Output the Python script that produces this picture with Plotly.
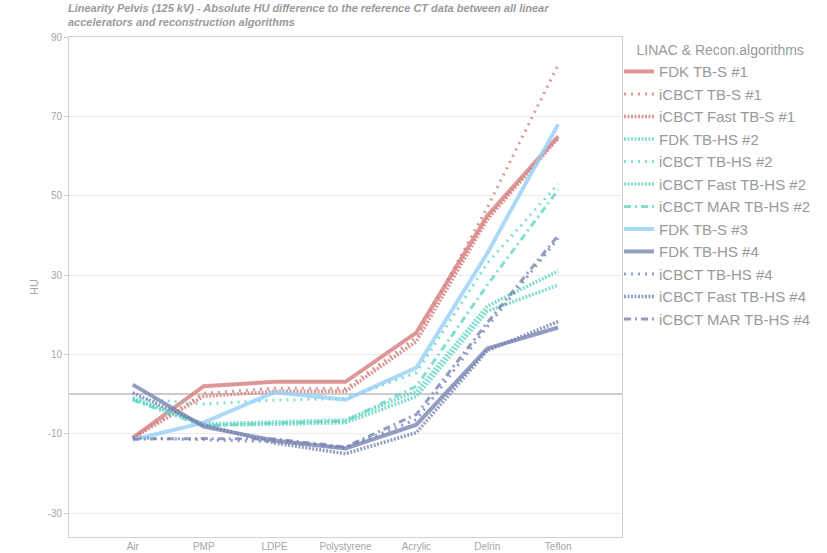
import plotly.graph_objects as go

categories = ["Air", "PMP", "LDPE", "Polystyrene", "Acrylic", "Delrin", "Teflon"]

series_names = [
    "FDK TB-S #1", "iCBCT TB-S #1", "iCBCT Fast TB-S #1",
    "FDK TB-HS #2", "iCBCT TB-HS #2", "iCBCT Fast TB-HS #2", "iCBCT MAR TB-HS #2",
    "FDK TB-S #3",
    "FDK TB-HS #4", "iCBCT TB-HS #4", "iCBCT Fast TB-HS #4", "iCBCT MAR TB-HS #4",
]

fdk_tbs_1 = [-11.0, 2.0, 3.1, 3.1, 15.5, 45.0, 65.0]
icbct_tbs_1 = [-11.0, 0.2, 1.5, 1.4, 14.3, 47.0, 83.0]
icbct_fast_tbs_1 = [-11.0, -0.6, 0.7, 0.7, 13.3, 44.0, 64.5]
fdk_tbhs_2 = [-1.0, -7.5, -7.0, -6.5, 0.7, 22.2, 31.0]
icbct_tbhs_2 = [-1.0, -2.5, -1.5, -1.1, 5.4, 33.0, 53.0]
icbct_fast_tbhs_2 = [-1.2, -7.8, -7.6, -7.2, -0.6, 20.9, 27.5]
icbct_mar_tbhs_2 = [-1.5, -8.0, -7.3, -6.8, 2.0, 27.5, 51.5]
fdk_tbs_3 = [-11.5, -7.2, 0.5, -1.4, 6.7, 35.5, 68.0]
fdk_tbhs_4 = [2.4, -8.2, -11.7, -13.7, -7.7, 11.5, 16.8]
icbct_tbhs_4 = [-11.0, -11.5, -12.0, -13.5, -6.4, 17.0, 39.3]
icbct_fast_tbhs_4 = [0.3, -7.7, -12.3, -15.0, -9.7, 11.0, 18.3]
icbct_mar_tbhs_4 = [-11.3, -11.2, -11.3, -13.3, -5.1, 18.0, 40.0]

series_values = [
    fdk_tbs_1, icbct_tbs_1, icbct_fast_tbs_1,
    fdk_tbhs_2, icbct_tbhs_2, icbct_fast_tbhs_2, icbct_mar_tbhs_2,
    fdk_tbs_3,
    fdk_tbhs_4, icbct_tbhs_4, icbct_fast_tbhs_4, icbct_mar_tbhs_4,
]

y_ticks = [-30, -10, 10, 30, 50, 70, 90]
y_tick_labels = ["-30", "-10", "10", "30", "50", "70", "90"]

RED = "rgba(214,125,125,0.8)"
TEAL = "rgba(100,214,196,0.8)"
BLUE = "rgba(150,208,245,0.8)"
SLATE = "rgba(120,132,178,0.8)"

SOLID = "solid"
SPARSE = "2px,5px"
DENSE = "2px,1.5px"
DASHDOT = "7px,4px,2px,4px"

styles = [
    (RED, SOLID, 4), (RED, SPARSE, 3), (RED, DENSE, 3.5),
    (TEAL, DENSE, 3.5), (TEAL, SPARSE, 3), (TEAL, DENSE, 3.5), (TEAL, DASHDOT, 3),
    (BLUE, SOLID, 4),
    (SLATE, SOLID, 4), (SLATE, SPARSE, 3), (SLATE, DENSE, 3.5), (SLATE, DASHDOT, 3),
]

fig = go.Figure()
for name, vals, (col, dash, w) in zip(series_names, series_values, styles):
    fig.add_trace(go.Scatter(
        x=categories, y=vals, mode="lines", name=name,
        line=dict(color=col, dash=dash, width=w),
    ))

GRAY_TXT = "#a6a6a6"

fig.update_layout(
    width=827, height=553,
    paper_bgcolor="white", plot_bgcolor="white",
    margin=dict(l=69, r=205, t=37, b=16, autoexpand=False),
    font=dict(family="Liberation Sans, Arial, sans-serif", color=GRAY_TXT),
    title=dict(
        text="<b><i>Linearity Pelvis (125 kV) - Absolute HU difference to the reference CT data between all linear<br>accelerators and reconstruction algorithms</i></b>",
        x=68 / 827, xanchor="left", xref="container",
        y=1 - 12 / 553, yanchor="top", yref="container",
        font=dict(size=11, color="#9a9a9a"),
    ),
    legend=dict(
        title=dict(text="&nbsp;&nbsp;&nbsp;&nbsp;LINAC & Recon.algorithms",
                   font=dict(size=14, color="#9a9a9a"), side="top"),
        x=(619 - 69) / 553, xanchor="left", y=1.0, yanchor="top",
        font=dict(size=15, color="#9a9a9a"),
        bgcolor="rgba(0,0,0,0)",
        itemwidth=30,
        tracegroupgap=0,
    ),
    showlegend=True,
)

fig.update_xaxes(
    type="category", range=[-0.9, 6.9],
    showgrid=False, showline=True, linecolor="#d0d0d0", linewidth=1, mirror=True,
    ticks="", tickfont=dict(size=10, color=GRAY_TXT), automargin=False, zeroline=False,
)
fig.update_yaxes(
    range=[-36, 90], tickvals=y_ticks, ticktext=y_tick_labels,
    showgrid=True, gridcolor="#ececec", gridwidth=1,
    showline=True, linecolor="#d0d0d0", linewidth=1, mirror=True,
    ticks="outside", ticklen=4, tickcolor="#d0d0d0",
    tickfont=dict(size=10, color=GRAY_TXT),
    zeroline=True, zerolinecolor="#cccccc", zerolinewidth=2,
    title=dict(text="HU", font=dict(size=11, color=GRAY_TXT), standoff=6),
    automargin=False,
)

fig.write_html("out.html", config={"displayModeBar": False},
               post_script="document.body.style.margin='0';")
